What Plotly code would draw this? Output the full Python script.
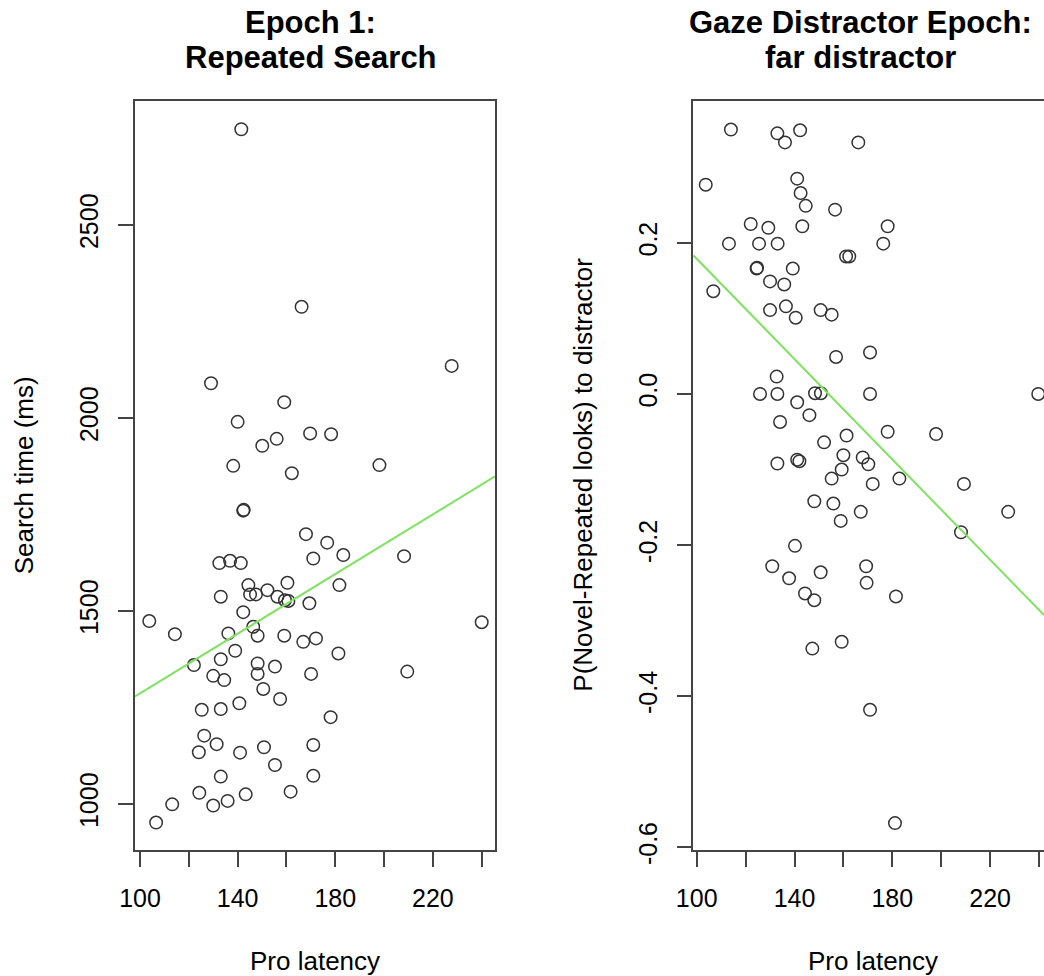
import plotly.graph_objects as go

# ---------------- data ----------------
# Left panel: Epoch 1: Repeated Search
left_latency = [141.5, 166.2, 227.7, 129.1, 159.1, 140.0, 156.0, 150.1, 169.7, 178.3,
                138.2, 162.2, 198.1, 142.3, 142.5, 168.0, 176.7, 183.3, 208.2, 171.0,
                132.5, 136.9, 141.3, 144.4, 160.4, 145.1, 147.5, 152.2, 156.3, 159.4,
                160.8, 133.1, 169.4, 181.7, 142.3, 103.8, 240.0, 114.3, 136.2, 146.4,
                148.2, 159.1, 166.9, 172.1, 181.3, 139.0, 133.1, 122.1, 148.2, 155.3,
                148.2, 130.0, 134.5, 170.1, 209.5, 150.5, 157.4, 125.3, 133.1, 140.7,
                178.1, 126.3, 131.4, 124.1, 141.0, 150.8, 171.0, 155.3, 133.1, 171.0,
                124.3, 143.3, 161.7, 113.2, 130.0, 135.9, 106.6]
left_search = [2748, 2288, 2135, 2090, 2041, 1990, 1946, 1928, 1960, 1958,
               1876, 1857, 1878, 1760, 1762, 1699, 1677, 1645, 1642, 1636,
               1624, 1630, 1624, 1567, 1573, 1543, 1543, 1554, 1537, 1528,
               1526, 1537, 1520, 1567, 1497, 1474, 1471, 1440, 1442, 1459,
               1436, 1436, 1420, 1429, 1390, 1397, 1375, 1360, 1364, 1356,
               1337, 1332, 1321, 1337, 1343, 1298, 1272, 1244, 1246, 1261,
               1225, 1177, 1155, 1134, 1133, 1147, 1153, 1101, 1071, 1073,
               1029, 1025, 1032, 999, 996, 1008, 952]
left_fit = {"intercept": 900.0, "slope": 3.865}

# Right panel: Gaze Distractor Epoch: far distractor
right_latency = [114.0, 133.0, 136.1, 142.3, 166.1, 103.7, 141.1, 142.5, 144.6, 156.6,
                 122.1, 129.3, 143.2, 178.1, 113.2, 125.5, 133.1, 176.3, 161.1, 162.4,
                 124.5, 124.7, 139.3, 106.8, 130.0, 135.8, 130.0, 136.5, 140.5, 150.7,
                 155.2, 157.0, 170.9, 132.7, 125.9, 133.0, 148.4, 150.8, 170.9, 239.7,
                 141.1, 146.1, 134.1, 161.3, 178.1, 197.9, 152.1, 133.0, 141.1, 142.0,
                 160.0, 167.9, 170.2, 159.3, 155.2, 172.0, 182.9, 209.3, 227.4, 148.1,
                 155.9, 167.1, 158.9, 208.1, 140.2, 130.9, 137.8, 150.7, 169.3, 169.5,
                 144.3, 148.1, 181.5, 159.3, 147.3, 170.9, 181.1]
right_pdiff = [0.350, 0.345, 0.333, 0.349, 0.333, 0.277, 0.285, 0.266, 0.249, 0.244,
               0.225, 0.220, 0.222, 0.222, 0.199, 0.199, 0.199, 0.199, 0.182, 0.182,
               0.166, 0.167, 0.166, 0.136, 0.149, 0.145, 0.111, 0.116, 0.101, 0.111,
               0.105, 0.049, 0.055, 0.023, 0.000, 0.000, 0.001, 0.001, 0.000, 0.000,
               -0.011, -0.028, -0.037, -0.055, -0.050, -0.053, -0.064, -0.092, -0.087, -0.089,
               -0.081, -0.084, -0.093, -0.100, -0.112, -0.119, -0.112, -0.119, -0.156, -0.142,
               -0.145, -0.156, -0.168, -0.183, -0.201, -0.228, -0.244, -0.236, -0.228, -0.250,
               -0.264, -0.273, -0.268, -0.328, -0.337, -0.418, -0.568]
right_fit = {"intercept": 0.511, "slope": -0.00332}

x_tickvals = [100, 120, 140, 160, 180, 200, 220, 240]
x_ticktext = ["100", "", "140", "", "180", "", "220", ""]
left_y_tickvals = [1000, 1500, 2000, 2500]
left_y_ticktext = ["1000", "1500", "2000", "2500"]
right_y_tickvals = [-0.6, -0.4, -0.2, 0.0, 0.2]
right_y_ticktext = ["-0.6", "-0.4", "-0.2", "0.0", "0.2"]

titles_left = ["Epoch 1:", "Repeated Search"]
titles_right = ["Gaze Distractor Epoch:", "far distractor"]
x_label = "Pro latency"
left_y_label = "Search time (ms)"
right_y_label = "P(Novel-Repeated looks) to distractor"

# ---------------- layout geometry ----------------
W, H = 1044, 976
FONT = "Liberation Sans, Arial, Helvetica, sans-serif"
x1_range = [97.95, 245.45]
y1_range = [880.8, 2821.2]
x2_range = [98.61, 242.05]
y2_range = [-0.6036, 0.3878]

def px(x):
    return x / W

def py(y):
    return 1 - y / H

fig = go.Figure()

marker = dict(symbol="circle-open", size=12.5, color="#333333", line=dict(width=1.5, color="#333333"))
green = "#80E262"

fig.add_trace(go.Scatter(x=left_latency, y=left_search, mode="markers", marker=marker,
                         xaxis="x", yaxis="y", showlegend=False, hoverinfo="x+y"))
lx = x1_range
fig.add_trace(go.Scatter(x=lx, y=[left_fit["intercept"] + left_fit["slope"] * v for v in lx],
                         mode="lines", line=dict(color=green, width=2),
                         xaxis="x", yaxis="y", showlegend=False))

fig.add_trace(go.Scatter(x=right_latency, y=right_pdiff, mode="markers", marker=marker,
                         xaxis="x2", yaxis="y2", showlegend=False, hoverinfo="x+y"))
rx = x2_range
fig.add_trace(go.Scatter(x=rx, y=[right_fit["intercept"] + right_fit["slope"] * v for v in rx],
                         mode="lines", line=dict(color=green, width=2),
                         xaxis="x2", yaxis="y2", showlegend=False))

axis_common = dict(showgrid=False, zeroline=False, showline=True, linecolor="#444444", linewidth=1.5,
                   ticks="outside", ticklen=15, tickwidth=1.5, tickcolor="#444444",
                   ticklabelstandoff=10,
                   tickfont=dict(family=FONT, size=25, color="black"), automargin=False)

ydom = [py(850), py(101)]
fig.update_layout(
    width=W, height=H, margin=dict(l=0, r=0, t=0, b=0, pad=0),
    paper_bgcolor="white", plot_bgcolor="white",
    xaxis=dict(domain=[px(135), px(495)], range=x1_range, tickvals=x_tickvals, ticktext=x_ticktext,
               mirror=True, anchor="y", **axis_common),
    yaxis=dict(domain=ydom, range=y1_range, tickvals=left_y_tickvals, ticktext=left_y_ticktext,
               tickangle=-90, mirror=True, anchor="x", **axis_common),
    xaxis2=dict(domain=[px(693.3), 1.0], range=x2_range, tickvals=x_tickvals, ticktext=x_ticktext,
                mirror=True, anchor="y2", **axis_common),
    yaxis2=dict(domain=ydom, range=y2_range, tickvals=right_y_tickvals, ticktext=right_y_ticktext,
                tickangle=-90, mirror=False, anchor="x2", **axis_common),
)

ann = []
tfont = dict(family=FONT, size=31, color="black")
for i, t in enumerate(titles_left):
    ann.append(dict(text="<b>%s</b>" % t, x=px(310.5), y=py([22.1, 57.1][i]), xref="paper", yref="paper",
                    xanchor="center", yanchor="middle", showarrow=False, font=tfont))
for i, t in enumerate(titles_right):
    ann.append(dict(text="<b>%s</b>" % t, x=px(860.8), y=py([22.1, 57.1][i]), xref="paper", yref="paper",
                    xanchor="center", yanchor="middle", showarrow=False, font=tfont))
lfont = dict(family=FONT, size=26, color="black")
ann.append(dict(text=x_label, x=px(315), y=py(960.5), xref="paper", yref="paper",
                xanchor="center", yanchor="middle", showarrow=False, font=lfont))
ann.append(dict(text=x_label, x=px(872.5), y=py(960.5), xref="paper", yref="paper",
                xanchor="center", yanchor="middle", showarrow=False, font=lfont))
ann.append(dict(text=left_y_label, x=px(24.3), y=py(475), xref="paper", yref="paper", textangle=-90,
                xanchor="center", yanchor="middle", showarrow=False, font=lfont))
ann.append(dict(text=right_y_label, x=px(582.7), y=py(475), xref="paper", yref="paper", textangle=-90,
                xanchor="center", yanchor="middle", showarrow=False, font=lfont))
fig.update_layout(annotations=ann)

fig.write_html("out.html")
